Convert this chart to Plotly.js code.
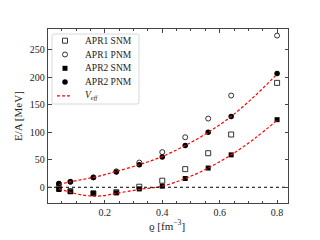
<!DOCTYPE html>
<html><head><meta charset="utf-8">
<script src="https://cdn.plot.ly/plotly-3.0.1.min.js"></script>
<style>body{margin:0;background:#fff}#c{width:320px;height:240px}</style>
</head><body><div id="c"></div>
<script>
const rho = [0.04, 0.08, 0.16, 0.24, 0.32, 0.40, 0.48, 0.56, 0.64, 0.80];
const apr1SNM = [-2, -7, -11, -9, 1, 12, 33, 62, 96, 190];
const apr1PNM = [6, 10, 18, 29, 45, 64, 91, 125, 167, 276];
const apr2SNM = [-4, -8, -11, -10, -3, 2, 16, 35, 59, 123];
const apr2PNM = [7, 10, 18, 28, 41, 55, 76, 100, 129, 207];
const rhoCurve = [0.04, 0.08, 0.12, 0.16, 0.20, 0.24, 0.32, 0.40, 0.48, 0.56, 0.64, 0.72, 0.80];
const veffPNM = [5, 10, 14, 18, 23, 29, 41, 56, 76, 100, 129, 165, 206];
const veffSNM = [-3, -9, -14, -16, -15, -11, -4, 2, 16, 35, 59, 88, 122];
const legendLabels = ['APR1 SNM', 'APR1 PNM', 'APR2 SNM', 'APR2 PNM', '<i>V</i><sub><i>eff</i></sub>'];

const F = "Liberation Serif, DejaVu Serif, serif";
const sym = [
  {symbol: 'square-open', size: 5, color: '#000', line: {width: 0.8, color: '#000'}},
  {symbol: 'circle-open', size: 5, color: '#000', line: {width: 0.8, color: '#000'}},
  {symbol: 'square', size: 5, color: '#000', line: {width: 0}},
  {symbol: 'circle', size: 5.5, color: '#000', line: {width: 0}}
];
const dashStyle = {color: '#ff0000', dash: '3px,2px', width: 1.2};
const series = [apr1SNM, apr1PNM, apr2SNM, apr2PNM];
const traces = [];
series.forEach((s, i) => traces.push({x: rho, y: s, mode: 'markers', marker: sym[i], showlegend: false}));
traces.push({x: rhoCurve, y: veffPNM, mode: 'lines', line: Object.assign({shape: 'spline'}, dashStyle), showlegend: false});
traces.push({x: rhoCurve, y: veffSNM, mode: 'lines', line: Object.assign({shape: 'spline'}, dashStyle), showlegend: false});
traces.push({x: [0.002, 0.838], y: [0, 0], mode: 'lines', showlegend: false,
  line: {color: '#000', dash: 'dot', width: 1}});

// custom legend in a pixel-like overlay frame (x2: 48..288, y2: 203..29)
const rowY = i => 40.7 + 13.8 * i;
const shapes = [];
const annotations = [];
shapes.push({type: 'path', xref: 'x2', yref: 'y2',
  path: 'M54,34 L137,34 Q139,34 139,36 L139,102 Q139,104 137,104 L54,104 Q52,104 52,102 L52,36 Q52,34 54,34 Z',
  line: {color: '#d8d8d8', width: 1}, fillcolor: '#fff', layer: 'below'});
legendLabels.forEach((t, i) => {
  annotations.push({xref: 'x2', yref: 'y2', x: 83, y: rowY(i), text: t, showarrow: false,
    xanchor: 'left', yanchor: 'middle', font: {family: F, size: 9.5, color: '#222'}});
});
sym.forEach((m, i) => traces.push({x: [65], y: [rowY(i)], xaxis: 'x2', yaxis: 'y2',
  mode: 'markers', marker: m, showlegend: false, cliponaxis: false}));
traces.push({x: [57, 72], y: [rowY(4), rowY(4)], xaxis: 'x2', yaxis: 'y2', mode: 'lines',
  line: dashStyle, showlegend: false});

const axBase = {showgrid: false, zeroline: false, ticks: 'inside', mirror: 'allticks',
  showline: true, linecolor: '#444', linewidth: 1.2, tickcolor: '#444',
  tickfont: {family: F, size: 10, color: '#222'}};
const layout = {
  width: 320, height: 240,
  margin: {l: 48, r: 32, t: 29, b: 37},
  paper_bgcolor: '#fff', plot_bgcolor: 'rgba(0,0,0,0)',
  font: {family: F, color: '#222'},
  showlegend: false,
  shapes: shapes,
  annotations: annotations.concat([
    {xref: 'paper', yref: 'paper', x: -0.125, y: 0.5, text: 'E/A [MeV]', textangle: -90,
     showarrow: false, xanchor: 'center', yanchor: 'middle', font: {family: F, size: 11, color: '#222'}},
    {xref: 'paper', yref: 'paper', x: 0.495, y: -0.128, text: 'ϱ [fm<sup>−3</sup>]',
     showarrow: false, xanchor: 'center', yanchor: 'middle', font: {family: F, size: 11, color: '#222'}}
  ]),
  xaxis: Object.assign({}, axBase, {range: [0.002, 0.838], tickvals: [0.2, 0.4, 0.6, 0.8],
    ticktext: ['0.2', '0.4', '0.6', '0.8'], ticklen: 3.5,
    minor: {dtick: 0.05, tick0: 0, ticks: 'inside', ticklen: 2, tickcolor: '#444'}}),
  yaxis: Object.assign({}, axBase, {range: [-28.6, 288], dtick: 50, ticklen: 3.5}),
  xaxis2: {overlaying: 'x', range: [48, 288], visible: false, fixedrange: true},
  yaxis2: {overlaying: 'y', range: [203, 29], visible: false, fixedrange: true}
};
Plotly.newPlot('c', traces, layout, {staticPlot: true});
</script></body></html>
